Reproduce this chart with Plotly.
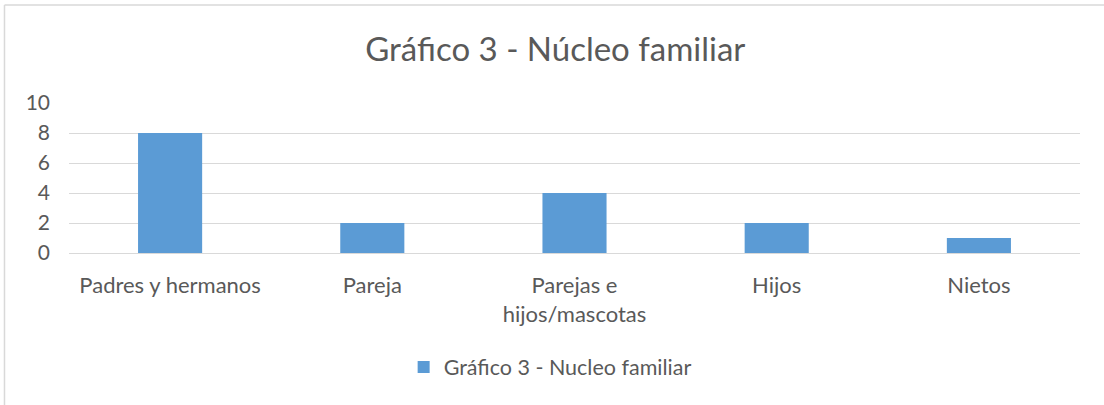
import plotly.graph_objects as go

categories = ["Padres y hermanos", "Pareja", "Parejas e<br>hijos/mascotas", "Hijos", "Nietos"]
values = [8, 2, 4, 2, 1]
series_name = "Gráfico 3 - Nucleo familiar"
chart_title = "Gráfico 3 - Núcleo familiar"
y_ticks = [0, 2, 4, 6, 8, 10]

font_family = "Lato, 'Open Sans', sans-serif"
text_color = "#595959"
grid_color = "#d9d9d9"

fig = go.Figure()
fig.add_trace(go.Bar(
    x=categories,
    y=values,
    name=series_name,
    marker=dict(color="#5b9bd5", line=dict(width=0)),
    showlegend=True,
))

fig.update_layout(
    width=1104,
    height=405,
    paper_bgcolor="white",
    plot_bgcolor="white",
    font=dict(family=font_family, color=text_color),
    margin=dict(l=69, r=24, t=103, b=152),
    bargap=0.683,
    title=dict(
        text=chart_title,
        x=0.503, xanchor="center",
        y=0.877, yanchor="middle",
        font=dict(size=33, color=text_color),
    ),
    legend=dict(
        orientation="h",
        x=0.331, xanchor="left",
        y=-0.76, yanchor="middle",
        font=dict(size=21.5, color=text_color),
    ),
    xaxis=dict(
        showgrid=False,
        showline=False,
        ticks="",
        tickfont=dict(size=22),
        ticklabelstandoff=17,
    ),
    yaxis=dict(
        range=[0, 10],
        tickvals=y_ticks,
        showgrid=True,
        gridcolor=grid_color,
        gridwidth=1,
        zeroline=True,
        zerolinecolor=grid_color,
        zerolinewidth=1,
        showline=False,
        ticks="",
        tickfont=dict(size=21),
        ticklabelstandoff=18,
    ),
    shapes=[
        dict(type="line", xref="paper", yref="paper", x0=-0.0638, x1=1.2, y0=1.653, y1=1.653,
             line=dict(color=grid_color, width=1.5)),
        dict(type="line", xref="paper", yref="paper", x0=-0.0638, x1=-0.0638, y0=1.653, y1=-1.3,
             line=dict(color=grid_color, width=1.5)),
    ],
)

fig.write_html("out.html", config={"displayModeBar": False},
               post_script="document.body.style.margin='0';")
